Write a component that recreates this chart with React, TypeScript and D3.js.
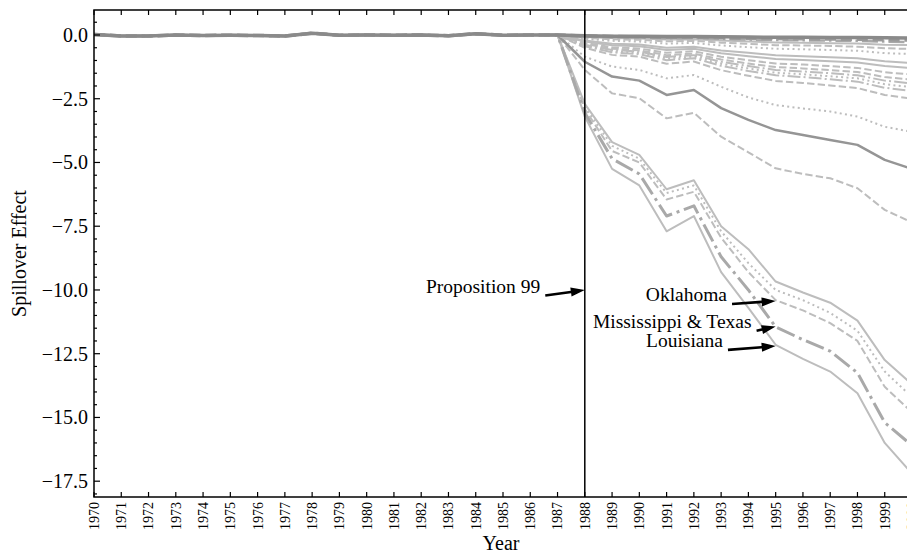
import React, { useEffect, useRef } from 'react';
import * as d3 from 'd3';

// Years on the x axis (also the tick labels)
const years = d3.range(1970, 2001);

// Pre-treatment values shared by all donor states, 1970–1987 (all roughly 0)
const preTreatment = [0.02, -0.04, -0.04, 0.0, -0.02, -0.01, -0.02, -0.04, 0.07, -0.01, 0.0, -0.01, 0.0, -0.03, 0.05, -0.01, 0.0, 0.0];

// Post-treatment spillover effects, 1988–2000
const louisiana = [-3.2, -5.25, -5.9, -7.7, -7.1, -9.3, -10.7, -12.15, -12.7, -13.2, -14.05, -16.0, -17.2];
const mississippiTexas = [-3.05, -4.85, -5.45, -7.1, -6.7, -8.7, -10.0, -11.45, -11.95, -12.4, -13.25, -15.2, -16.1];
const oklahoma = [-2.9, -4.55, -5.0, -6.45, -6.15, -7.95, -9.3, -10.4, -10.8, -11.3, -12.0, -13.8, -14.8];
const bundleDotted = [-2.8, -4.35, -4.85, -6.2, -5.9, -7.7, -8.95, -10.0, -10.4, -10.9, -11.6, -13.2, -14.2];
const bundleTop = [-2.7, -4.2, -4.7, -6.05, -5.7, -7.5, -8.4, -9.67, -10.1, -10.5, -11.2, -12.75, -13.7];
const darkSolid = [-1.05, -1.63, -1.79, -2.35, -2.16, -2.87, -3.33, -3.73, -3.92, -4.12, -4.31, -4.9, -5.25];
const lightDashed = [-1.37, -2.29, -2.48, -3.27, -3.05, -3.99, -4.6, -5.23, -5.45, -5.62, -6.01, -6.86, -7.35];
const lightDotted = [-0.85, -1.24, -1.37, -1.7, -1.57, -2.03, -2.45, -2.75, -2.88, -3.0, -3.2, -3.6, -3.8];
const donor01 = [-0.5, -0.78, -0.85, -1.13, -1.04, -1.38, -1.6, -1.8, -1.88, -1.98, -2.08, -2.35, -2.5];
const donor02 = [-0.44, -0.68, -0.75, -0.99, -0.91, -1.21, -1.41, -1.58, -1.65, -1.74, -1.83, -2.07, -2.2];
const donor03 = [-0.41, -0.64, -0.7, -0.92, -0.85, -1.13, -1.31, -1.48, -1.54, -1.62, -1.7, -1.93, -2.05];
const donor04 = [-0.38, -0.59, -0.65, -0.86, -0.79, -1.05, -1.22, -1.37, -1.43, -1.5, -1.58, -1.79, -1.9];
const donor05 = [-0.35, -0.54, -0.6, -0.79, -0.73, -0.96, -1.12, -1.26, -1.31, -1.38, -1.45, -1.65, -1.75];
const donor06 = [-0.31, -0.48, -0.53, -0.7, -0.64, -0.85, -0.99, -1.12, -1.16, -1.22, -1.29, -1.46, -1.55];
const donor07 = [-0.26, -0.4, -0.44, -0.59, -0.54, -0.72, -0.83, -0.94, -0.98, -1.03, -1.08, -1.22, -1.3];
const donor08 = [-0.22, -0.34, -0.37, -0.5, -0.46, -0.61, -0.7, -0.79, -0.83, -0.87, -0.91, -1.03, -1.1];
const donor09 = [-0.15, -0.23, -0.26, -0.34, -0.31, -0.41, -0.48, -0.54, -0.56, -0.59, -0.62, -0.71, -0.75];
const donor10 = [-0.11, -0.17, -0.19, -0.25, -0.23, -0.3, -0.35, -0.4, -0.41, -0.43, -0.46, -0.52, -0.55];
const donor11 = [-0.08, -0.12, -0.14, -0.18, -0.17, -0.22, -0.26, -0.29, -0.3, -0.32, -0.33, -0.38, -0.4];
const donor12 = [-0.06, -0.09, -0.1, -0.13, -0.12, -0.15, -0.18, -0.2, -0.21, -0.22, -0.23, -0.26, -0.28];
const donor13 = [-0.04, -0.06, -0.07, -0.09, -0.08, -0.11, -0.13, -0.14, -0.15, -0.16, -0.17, -0.19, -0.2];
const donor14 = [-0.03, -0.05, -0.05, -0.06, -0.06, -0.07, -0.08, -0.09, -0.09, -0.1, -0.1, -0.11, -0.12];

const yTicks = [0, -2.5, -5, -7.5, -10, -12.5, -15, -17.5];

const annotations = [
  { label: 'Proposition 99', year: 1988, value: -10.0, tailYear: 1986.55, tailValue: -10.22 },
  { label: 'Oklahoma', year: 1995, value: -10.43, tailYear: 1993.4, tailValue: -10.55 },
  { label: 'Mississippi & Texas', year: 1995, value: -11.43, tailYear: 1994.3, tailValue: -11.6 },
  { label: 'Louisiana', year: 1995, value: -12.2, tailYear: 1993.25, tailValue: -12.35 },
];

const W = 907;
const H = 554;
const FONT = '"Liberation Serif", "Times New Roman", Times, serif';

type Style = { color: string; width: number; dash: string | null };
const SOLID = null;
const DASH = (lw: number) => `${3.7 * lw},${1.6 * lw}`;
const DOT = (lw: number) => `${1 * lw},${1.65 * lw}`;
const DASHDOT = (lw: number) => `${6.4 * lw},${1.6 * lw},${1 * lw},${1.6 * lw}`;

export default function App() {
  const svgRef = useRef<SVGSVGElement>(null);

  useEffect(() => {
    if (!svgRef.current) return;
    const svg = d3.select(svgRef.current);
    svg.selectAll('*').remove();

    const left = 94, right = 912, top = 10, bottom = 497;

    const x = d3.scaleLinear().domain([1970, 2000]).range([left, right]);
    const y = d3.scaleLinear().domain([-18.12, 0.98]).range([bottom, top]);

    const light = '#bdbdbd';
    const mid = '#a9a9a9';
    const dark = '#959595';

    // Draw order: first drawn ends up underneath
    const series: { values: number[]; style: Style }[] = [
      { values: louisiana, style: { color: light, width: 2, dash: SOLID } },
      { values: bundleTop, style: { color: light, width: 2, dash: SOLID } },
      { values: bundleDotted, style: { color: light, width: 2, dash: DOT(2) } },
      { values: oklahoma, style: { color: light, width: 2, dash: DASH(2) } },
      { values: mississippiTexas, style: { color: mid, width: 3, dash: DASHDOT(3) } },
      { values: lightDashed, style: { color: light, width: 2, dash: DASH(2) } },
      { values: lightDotted, style: { color: light, width: 2, dash: DOT(2) } },
      { values: darkSolid, style: { color: dark, width: 2.5, dash: SOLID } },
      { values: donor01, style: { color: light, width: 2, dash: DASH(2) } },
      { values: donor02, style: { color: light, width: 2, dash: DASHDOT(2) } },
      { values: donor03, style: { color: light, width: 2, dash: DOT(2) } },
      { values: donor04, style: { color: light, width: 2, dash: DASHDOT(2) } },
      { values: donor05, style: { color: light, width: 2, dash: DASH(2) } },
      { values: donor06, style: { color: light, width: 2, dash: DASH(2) } },
      { values: donor07, style: { color: light, width: 2, dash: SOLID } },
      { values: donor08, style: { color: light, width: 2, dash: SOLID } },
      { values: donor09, style: { color: light, width: 2, dash: DOT(2) } },
      { values: donor10, style: { color: light, width: 2, dash: DASH(2) } },
      { values: donor11, style: { color: light, width: 2, dash: SOLID } },
      { values: donor12, style: { color: mid, width: 2.5, dash: DASHDOT(2.5) } },
      { values: donor13, style: { color: '#9a9a9a', width: 3.5, dash: DASH(3) } },
      { values: donor14, style: { color: '#8a8a8a', width: 3.5, dash: SOLID } },
    ];

    svg.append('defs').append('clipPath').attr('id', 'plot-clip')
      .append('rect').attr('x', left).attr('y', top)
      .attr('width', right - left).attr('height', bottom - top);

    const line = d3.line<[number, number]>()
      .x(d => x(d[0]))
      .y(d => y(d[1]));

    const linesG = svg.append('g').attr('clip-path', 'url(#plot-clip)');
    series.forEach(s => {
      const vals = preTreatment.concat(s.values);
      const pts: [number, number][] = years.map((yr, i) => [yr, vals[i]]);
      const p = linesG.append('path')
        .attr('d', line(pts))
        .attr('fill', 'none')
        .attr('stroke', s.style.color)
        .attr('stroke-width', s.style.width)
        .attr('stroke-linejoin', 'round');
      if (s.style.dash) p.attr('stroke-dasharray', s.style.dash);
    });

    // Proposition 99 vertical line
    svg.append('line')
      .attr('x1', x(1988)).attr('x2', x(1988))
      .attr('y1', top).attr('y2', bottom)
      .attr('stroke', '#000').attr('stroke-width', 1.5);

    // Frame
    svg.append('rect')
      .attr('x', left).attr('y', top)
      .attr('width', right - left).attr('height', bottom - top)
      .attr('fill', 'none').attr('stroke', '#000').attr('stroke-width', 1.5);

    // Ticks (inward)
    const ticksG = svg.append('g').attr('stroke', '#000').attr('stroke-width', 1.2);
    years.forEach(yr => {
      ticksG.append('line').attr('x1', x(yr)).attr('x2', x(yr)).attr('y1', bottom).attr('y2', bottom - 5);
      ticksG.append('line').attr('x1', x(yr)).attr('x2', x(yr)).attr('y1', top).attr('y2', top + 5);
    });
    const minor = d3.range(-18, 0.51, 0.5);
    minor.forEach(v => {
      const major = yTicks.includes(v);
      ticksG.append('line').attr('x1', left).attr('x2', left + (major ? 6 : 3))
        .attr('y1', y(v)).attr('y2', y(v));
    });

    // X tick labels (rotated)
    svg.append('g').selectAll('text').data(years).enter().append('text')
      .attr('transform', d => `translate(${x(d)},${bottom + 5}) rotate(-90)`)
      .attr('text-anchor', 'end')
      .attr('dy', '0.35em')
      .style('font-family', FONT)
      .style('font-size', '14px')
      .text(d => String(d));

    // Y tick labels
    svg.append('g').selectAll('text').data(yTicks).enter().append('text')
      .attr('x', left - 6)
      .attr('y', d => y(d))
      .attr('dy', '0.35em')
      .attr('text-anchor', 'end')
      .style('font-family', FONT)
      .style('font-size', '20px')
      .text(d => d3.format('.1f')(d).replace('-', '\u2212'));

    // Axis titles
    svg.append('text')
      .attr('transform', `translate(26,${(top + bottom) / 2}) rotate(-90)`)
      .attr('text-anchor', 'middle')
      .style('font-family', FONT).style('font-size', '20px')
      .text('Spillover Effect');
    svg.append('text')
      .attr('x', 501).attr('y', 550)
      .attr('text-anchor', 'middle')
      .style('font-family', FONT).style('font-size', '20px')
      .text('Year');

    // Annotations with arrows
    annotations.forEach(a => {
      const tx = x(a.year), ty = y(a.value);
      const sx = x(a.tailYear), sy = y(a.tailValue);
      const ang = Math.atan2(ty - sy, tx - sx);
      const headL = 14, headW = 4.5, shaftW = 1.3;
      const len = Math.hypot(tx - sx, ty - sy);
      const g = svg.append('g')
        .attr('transform', `translate(${sx},${sy}) rotate(${(ang * 180) / Math.PI})`);
      g.append('path')
        .attr('d', `M0,${-shaftW} L${len - headL},${-shaftW} L${len - headL},${-headW} L${len},0 L${len - headL},${headW} L${len - headL},${shaftW} L0,${shaftW} Z`)
        .attr('fill', '#000');
      svg.append('text')
        .attr('x', sx - 5)
        .attr('y', sy - 3)
        .attr('text-anchor', 'end')
        .style('font-family', FONT).style('font-size', '19.5px')
        .text(a.label);
    });
  }, []);

  return (
    <svg
      ref={svgRef}
      width={W}
      height={H}
      style={{ position: 'absolute', left: 0, top: 0, background: '#fff', overflow: 'hidden' }}
    />
  );
}
